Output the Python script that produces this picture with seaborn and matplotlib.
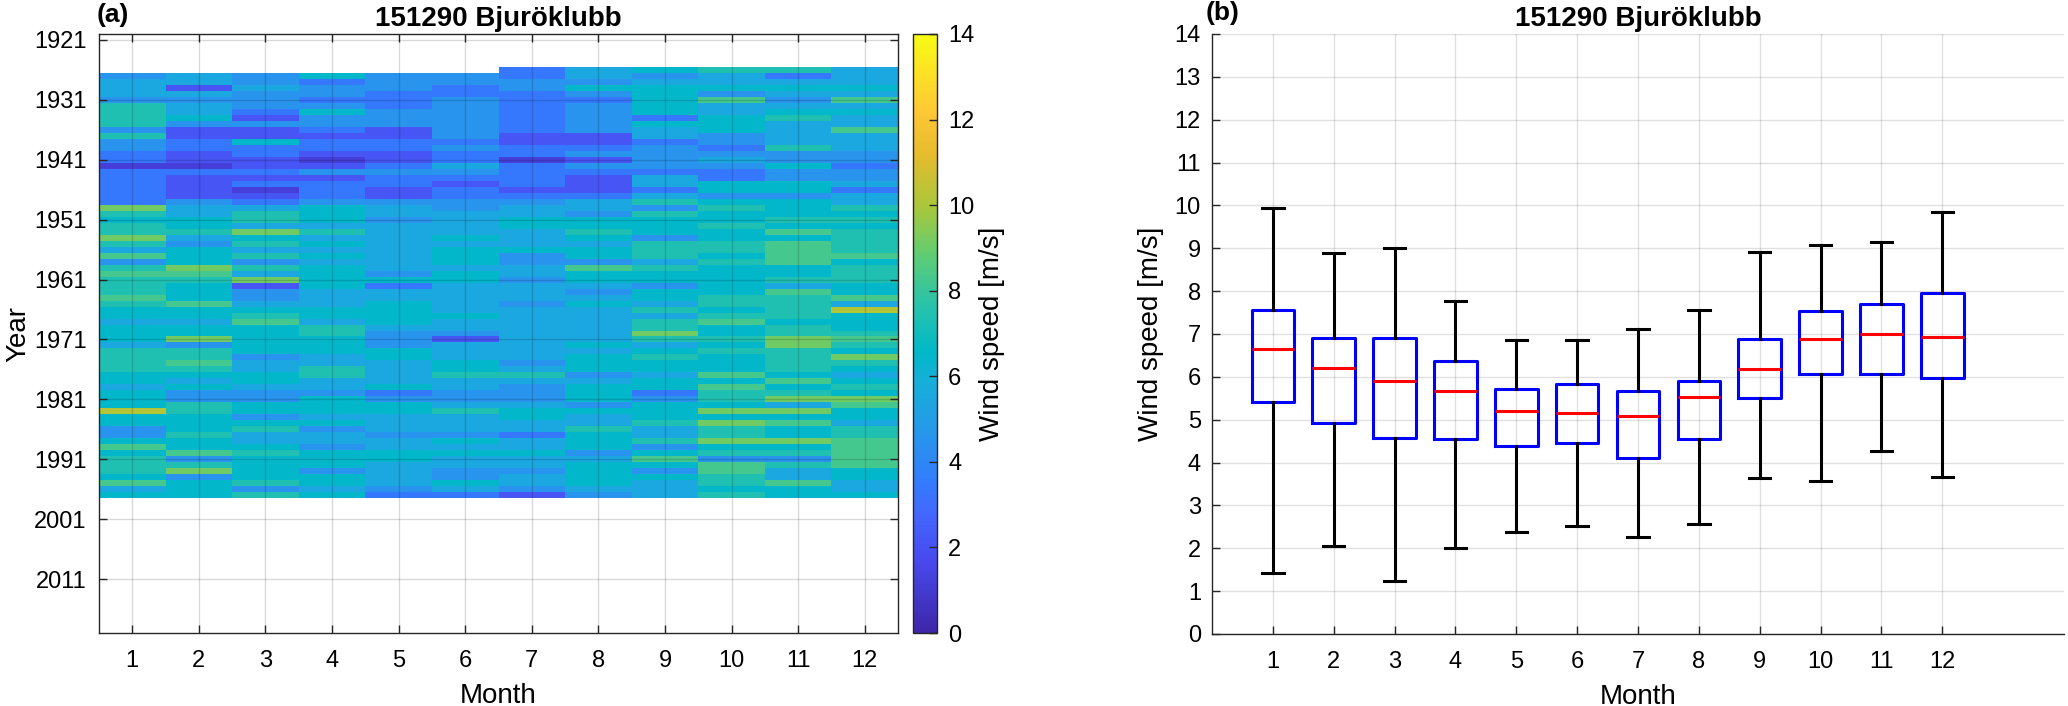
import numpy as np
import pandas as pd
import matplotlib
matplotlib.use('Agg')
import matplotlib.pyplot as plt
import seaborn as sns
from matplotlib.colors import LinearSegmentedColormap

FAMILY = ['Liberation Sans', 'DejaVu Sans']
plt.rcParams['font.family'] = FAMILY

nan = np.nan
station = '151290 Bjuröklubb'
years = list(range(1926, 1998))
month_labels = [str(m) for m in range(1, 13)]
ytick_years = list(range(1921, 2012, 10))

# Monthly mean wind speed [m/s], one value per year 1926..1997
m01 = [nan,
       4.5, 5.5, 5.5, 5.5, 4.5, 7.4, 7.4, 7.4, 7.4,
       4.5, 7.4, 4.5, 4.5, 3.4, 3.4, 1.2, 3.4, 3.4, 3.4,
       3.4, 3.4, 3.4, 9.1, 7.4, 6.5, 7.4, 7.4, 9.1, 7.4,
       5.5, 8.3, 4.5, 7.4, 8.3, 7.4, 7.4, 7.4, 8.3, 7.4,
       6.5, 6.5, 5.5, 6.5, 6.5, 6.5, 5.5, 7.4, 7.4, 7.4,
       7.4, 6.5, 6.5, 5.5, 6.5, 6.5, 6.5, 10.2, 6.5, 6.5,
       4.5, 4.5, 6.5, 8.3, 6.5, 7.4, 7.4, 7.4, 6.5, 8.3,
       5.5, 6.5]
m02 = [nan,
       5.5, 5.5, 2.1, 5.5, 4.5, 5.5, 5.5, 6.5, 4.5,
       2.1, 2.1, 3.4, 3.4, 2.1, 2.1, 1.2, 3.4, 2.1, 2.1,
       2.1, 2.1, 4.5, 5.5, 5.5, 6.5, 6.5, 7.4, 5.5, 4.5,
       6.5, 6.5, 6.5, 9.1, 8.3, 7.4, 6.5, 6.5, 6.5, 8.3,
       6.5, 6.5, 5.5, 6.5, 6.5, 9.1, 4.5, 7.4, 7.4, 8.3,
       7.4, 6.5, 5.5, 6.5, 4.5, 4.5, 7.4, 7.4, 6.5, 6.5,
       6.5, 7.4, 6.5, 6.5, 8.3, 4.5, 7.4, 9.1, 4.5, 6.5,
       6.5, 6.5]
m03 = [nan,
       4.5, 4.5, 5.5, 4.5, 4.5, 4.5, 3.4, 2.1, 4.5,
       2.1, 2.1, 6.5, 3.4, 3.4, 2.1, 2.1, 3.4, 2.1, 3.4,
       1.2, 2.1, 3.4, 5.5, 7.4, 7.4, 5.5, 9.1, 6.5, 7.4,
       5.5, 7.4, 4.5, 7.4, 5.5, 9.1, 2.1, 4.5, 4.5, 5.5,
       6.5, 7.4, 8.3, 6.5, 6.5, 6.5, 6.5, 6.5, 4.5, 5.5,
       5.5, 6.5, 6.5, 5.5, 4.5, 4.5, 6.5, 6.5, 4.5, 6.5,
       7.4, 5.5, 5.5, 6.5, 7.4, 6.5, 6.5, 6.5, 6.5, 7.4,
       4.5, 7.4]
m04 = [nan,
       6.5, 3.4, 4.5, 4.5, 3.4, 4.5, 6.5, 4.5, 4.5,
       3.4, 2.1, 3.4, 3.4, 2.1, 1.2, 2.1, 4.5, 2.1, 3.4,
       3.4, 3.4, 4.5, 6.5, 6.5, 6.5, 5.5, 7.4, 5.5, 6.5,
       5.5, 6.5, 5.5, 6.5, 6.5, 6.5, 6.5, 5.5, 5.5, 5.5,
       6.5, 6.5, 5.5, 7.4, 7.4, 6.5, 6.5, 6.5, 5.5, 5.5,
       7.4, 7.4, 5.5, 5.5, 4.5, 6.5, 6.5, 6.5, 5.5, 6.5,
       4.5, 5.5, 5.5, 4.5, 6.5, 6.5, 6.5, 4.5, 6.5, 6.5,
       5.5, 6.5]
m05 = [nan,
       4.5, 4.5, 4.5, 3.4, 3.4, 3.4, 4.5, 4.5, 4.5,
       2.1, 2.1, 3.4, 3.4, 2.1, 2.1, 3.4, 4.5, 3.4, 3.4,
       2.1, 2.1, 4.5, 5.5, 5.5, 4.5, 5.5, 5.5, 5.5, 5.5,
       5.5, 5.5, 5.5, 5.5, 4.5, 6.5, 3.4, 5.5, 5.5, 6.5,
       6.5, 6.5, 6.5, 5.5, 4.5, 4.5, 4.5, 6.5, 6.5, 5.5,
       5.5, 5.5, 5.5, 6.5, 3.4, 4.5, 6.5, 6.5, 5.5, 5.5,
       5.5, 4.5, 5.5, 5.5, 6.5, 6.5, 5.5, 5.5, 5.5, 5.5,
       4.5, 3.4]
m06 = [nan,
       4.5, 4.5, 3.4, 3.4, 4.5, 4.5, 4.5, 4.5, 4.5,
       4.5, 4.5, 3.4, 4.5, 3.4, 3.4, 5.5, 4.5, 3.4, 2.1,
       3.4, 3.4, 4.5, 4.5, 5.5, 5.5, 5.5, 5.5, 6.5, 5.5,
       6.5, 6.5, 6.5, 5.5, 6.5, 6.5, 5.5, 5.5, 5.5, 5.5,
       5.5, 6.5, 5.5, 5.5, 4.5, 2.1, 5.5, 5.5, 5.5, 6.5,
       6.5, 7.4, 5.5, 5.5, 4.5, 4.5, 5.5, 7.4, 5.5, 5.5,
       5.5, 4.5, 6.5, 5.5, 6.5, 5.5, 5.5, 4.5, 4.5, 6.5,
       5.5, 3.4]
m07 = [3.4,
       3.4, 4.5, 4.5, 3.4, 3.4, 3.4, 3.4, 3.4, 3.4,
       3.4, 2.1, 2.1, 3.4, 3.4, 1.2, 3.4, 3.4, 3.4, 3.4,
       2.1, 3.4, 4.5, 5.5, 5.5, 6.5, 6.5, 5.5, 5.5, 5.5,
       6.5, 4.5, 4.5, 5.5, 5.5, 4.5, 5.5, 5.5, 5.5, 4.5,
       5.5, 5.5, 5.5, 5.5, 5.5, 5.5, 5.5, 5.5, 5.5, 4.5,
       5.5, 7.4, 5.5, 4.5, 4.5, 4.5, 5.5, 6.5, 6.5, 5.5,
       5.5, 3.4, 5.5, 5.5, 6.5, 5.5, 5.5, 4.5, 5.5, 5.5,
       4.5, 2.1]
m08 = [5.5,
       5.5, 4.5, 6.5, 4.5, 3.4, 4.5, 4.5, 4.5, 4.5,
       4.5, 2.1, 2.1, 3.4, 4.5, 2.1, 4.5, 3.4, 2.1, 2.1,
       2.1, 3.4, 5.5, 5.5, 4.5, 6.5, 6.5, 7.4, 6.5, 5.5,
       6.5, 6.5, 4.5, 8.3, 6.5, 6.5, 5.5, 4.5, 5.5, 6.5,
       5.5, 5.5, 5.5, 5.5, 5.5, 5.5, 6.5, 5.5, 6.5, 6.5,
       6.5, 4.5, 5.5, 6.5, 6.5, 6.5, 4.5, 6.5, 5.5, 5.5,
       7.4, 6.5, 6.5, 6.5, 4.5, 5.5, 6.5, 6.5, 6.5, 6.5,
       5.5, 4.5]
m09 = [6.5,
       4.5, 5.5, 6.5, 6.5, 6.5, 6.5, 6.5, 3.4, 6.5,
       5.5, 5.5, 3.4, 4.5, 4.5, 4.5, 4.5, 3.4, 5.5, 5.5,
       3.4, 5.5, 7.4, 4.5, 7.4, 6.5, 6.5, 6.5, 4.5, 7.4,
       7.4, 7.4, 5.5, 7.4, 6.5, 6.5, 4.5, 6.5, 6.5, 5.5,
       7.4, 5.5, 7.4, 7.4, 9.1, 7.4, 5.5, 6.5, 7.4, 6.5,
       6.5, 5.5, 6.5, 6.5, 3.4, 4.5, 6.5, 6.5, 6.5, 7.4,
       5.5, 5.5, 7.4, 4.5, 6.5, 8.3, 6.5, 4.5, 6.5, 5.5,
       5.5, 5.5]
m10 = [7.4,
       5.5, 5.5, 6.5, 4.5, 8.3, 5.5, 5.5, 6.5, 6.5,
       6.5, 4.5, 4.5, 3.4, 4.5, 5.5, 4.5, 3.4, 3.4, 6.5,
       6.5, 4.5, 6.5, 7.4, 6.5, 6.5, 7.4, 6.5, 6.5, 7.4,
       7.4, 6.5, 7.4, 6.5, 6.5, 6.5, 6.5, 6.5, 7.4, 7.4,
       6.5, 7.4, 8.3, 6.5, 6.5, 7.4, 6.5, 7.4, 6.5, 6.5,
       6.5, 8.3, 6.5, 8.3, 7.4, 7.4, 6.5, 9.1, 6.5, 9.1,
       7.4, 7.4, 9.1, 6.5, 7.4, 4.5, 8.3, 8.3, 7.4, 7.4,
       6.5, 7.4]
m11 = [7.4,
       3.4, 5.5, 6.5, 5.5, 4.5, 5.5, 6.5, 7.4, 5.5,
       5.5, 5.5, 5.5, 7.4, 4.5, 4.5, 6.5, 4.5, 4.5, 6.5,
       6.5, 4.5, 6.5, 6.5, 6.5, 7.4, 6.5, 8.3, 6.5, 8.3,
       8.3, 8.3, 8.3, 6.5, 6.5, 7.4, 5.5, 8.3, 7.4, 7.4,
       7.4, 7.4, 6.5, 7.4, 7.4, 9.1, 9.1, 7.4, 7.4, 7.4,
       7.4, 6.5, 8.3, 6.5, 7.4, 9.1, 5.5, 9.1, 6.5, 8.3,
       6.5, 6.5, 9.1, 6.5, 7.4, 4.5, 7.4, 5.5, 5.5, 8.3,
       6.5, 6.5]
m12 = [5.5,
       5.5, 5.5, 6.5, 5.5, 8.3, 5.5, 6.5, 5.5, 5.5,
       8.3, 5.5, 5.5, 5.5, 4.5, 4.5, 3.4, 4.5, 4.5, 5.5,
       3.4, 5.5, 5.5, 7.4, 6.5, 7.4, 6.5, 7.4, 7.4, 7.4,
       7.4, 8.3, 6.5, 7.4, 7.4, 7.4, 6.5, 6.5, 8.3, 5.5,
       10.2, 6.5, 6.5, 6.5, 7.4, 8.3, 7.4, 6.5, 9.1, 7.4,
       6.5, 5.5, 6.5, 7.4, 6.5, 9.1, 8.3, 6.5, 6.5, 5.5,
       7.4, 7.4, 8.3, 8.3, 8.3, 8.3, 8.3, 6.5, 6.5, 5.5,
       5.5, 6.5]

# Box plot statistics per month (panel b)
box_whishi = [9.93, 8.89, 9.01, 7.78, 6.85, 6.85, 7.12, 7.55, 8.92, 9.07, 9.14, 9.85]
box_q3 = [7.56, 6.91, 6.91, 6.36, 5.72, 5.83, 5.67, 5.91, 6.89, 7.54, 7.70, 7.96]
box_med = [6.64, 6.20, 5.90, 5.66, 5.20, 5.15, 5.08, 5.53, 6.19, 6.89, 7.00, 6.94]
box_q1 = [5.41, 4.93, 4.58, 4.55, 4.38, 4.46, 4.10, 4.56, 5.50, 6.06, 6.06, 5.98]
box_whislo = [1.43, 2.06, 1.24, 2.00, 2.38, 2.53, 2.26, 2.57, 3.63, 3.57, 4.26, 3.67]

# MATLAB-like parula colormap
parula = LinearSegmentedColormap.from_list('parula', [
    (0.00, (0.2422, 0.1504, 0.6603)),
    (0.12, (0.2809, 0.2875, 0.9305)),
    (0.20, (0.2621, 0.4088, 0.9946)),
    (0.25, (0.2006, 0.4803, 0.9906)),
    (0.33, (0.1540, 0.5902, 0.9218)),
    (0.42, (0.0855, 0.6865, 0.8513)),
    (0.47, (0.0009, 0.7248, 0.7815)),
    (0.55, (0.1609, 0.7635, 0.6671)),
    (0.63, (0.3671, 0.8021, 0.4563)),
    (0.71, (0.6567, 0.7818, 0.2329)),
    (0.80, (0.9000, 0.7336, 0.1749)),
    (0.87, (0.9962, 0.7798, 0.2095)),
    (1.00, (0.9769, 0.9839, 0.0805)),
], N=256)

W, H = 2068, 706
fig = plt.figure(figsize=(W / 100, H / 100), dpi=100)
axa = fig.add_axes([99 / W, 73 / H, 799 / W, 599 / H])
cax = fig.add_axes([913 / W, 73 / H, 24 / W, 599 / H])
axb = fig.add_axes([1212 / W, 72 / H, 852 / W, 600 / H])

TICK = 17
LAB = 20
SPINE = '0.15'

# ---------------- panel (a): heatmap ----------------
months = [m01, m02, m03, m04, m05, m06, m07, m08, m09, m10, m11, m12]
df = pd.DataFrame({i + 1: v for i, v in enumerate(months)}, index=years)
full = df.reindex(range(1920, 2021))
sns.heatmap(full, ax=axa, cmap=parula, vmin=0, vmax=14, cbar_ax=cax,
            xticklabels=False, yticklabels=False,
            cbar_kws={'ticks': list(range(0, 15, 2))})
axa.set_xlim(0, 12)
axa.set_ylim(100.5, 0.5)
axa.set_xticks(np.arange(12) + 0.5)
axa.set_xticklabels(month_labels)
axa.set_yticks([y - 1920 + 0.5 for y in ytick_years])
axa.set_yticklabels([str(y) for y in ytick_years])
axa.tick_params(direction='in', length=6, width=1, color=SPINE,
                top=True, right=True, labelsize=TICK, pad=9)
axa.tick_params(axis='x', pad=12)
for s in axa.spines.values():
    s.set_visible(True)
    s.set_color(SPINE)
    s.set_linewidth(1.0)
axa.set_axisbelow(False)
axa.grid(True, color='k', alpha=0.15, lw=1.0)
axa.set_facecolor('white')
axa.set_xlabel('Month', fontsize=LAB, labelpad=8)
axa.set_ylabel('Year', fontsize=LAB, labelpad=2)
axa.set_title(station, fontsize=LAB, fontweight='bold', pad=6)

cb = axa.collections[0].colorbar
cb.outline.set_edgecolor(SPINE)
cb.outline.set_linewidth(1.0)
cax.tick_params(direction='in', length=6, width=1, color=SPINE, labelsize=TICK, pad=8)
cb.set_label('Wind speed [m/s]', fontsize=LAB, labelpad=3)

# ---------------- panel (b): box plots ----------------
stats = []
for i in range(12):
    stats.append(dict(med=box_med[i], q1=box_q1[i], q3=box_q3[i],
                      whislo=box_whislo[i], whishi=box_whishi[i], fliers=[]))
axb.set_axisbelow(True)
axb.grid(True, color='k', alpha=0.12, lw=1.0)
axb.bxp(stats, positions=list(range(1, 13)), widths=0.7, capwidths=0.35,
        showfliers=False, patch_artist=False,
        boxprops=dict(color='#0000ff', linewidth=2.2),
        medianprops=dict(color='#ff0000', linewidth=2.2),
        whiskerprops=dict(color='black', linewidth=2.2, linestyle='-'),
        capprops=dict(color='black', linewidth=2.2))
axb.set_xlim(0, 14)
axb.set_ylim(0, 14)
axb.set_xticks(list(range(1, 13)))
axb.set_xticklabels(month_labels)
axb.set_yticks(list(range(0, 15)))
axb.tick_params(direction='in', length=6, width=1, color=SPINE,
                labelsize=TICK, pad=8)
axb.tick_params(axis='x', pad=12)
axb.spines['top'].set_visible(False)
axb.spines['right'].set_visible(False)
for k in ('left', 'bottom'):
    axb.spines[k].set_color(SPINE)
    axb.spines[k].set_linewidth(1.0)
axb.set_xlabel('Month', fontsize=LAB, labelpad=8)
axb.set_ylabel('Wind speed [m/s]', fontsize=LAB, labelpad=8)
axb.set_title(station, fontsize=LAB, fontweight='bold', pad=6)

fig.text(97 / W, 1 - 3 / H, '(a)', ha='left', va='top', fontsize=19, fontweight='bold')
fig.text(1206 / W, 1 - 1 / H, '(b)', ha='left', va='top', fontsize=19, fontweight='bold')

fig.savefig('out.png', dpi=100, facecolor='white')
